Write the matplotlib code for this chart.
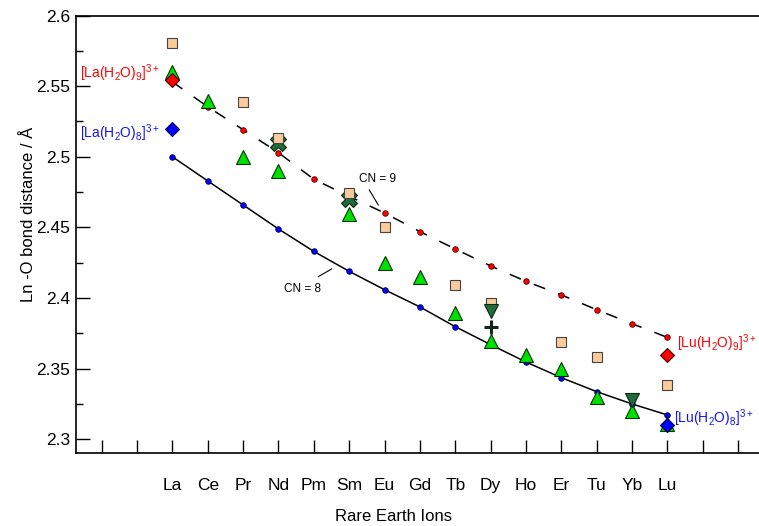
import numpy as np
import matplotlib
matplotlib.use('Agg')
import matplotlib.pyplot as plt
from matplotlib.ticker import FixedLocator, FuncFormatter

plt.rcParams['font.family'] = ['Liberation Sans', 'DejaVu Sans']
plt.rcParams['mathtext.fontset'] = 'custom'
plt.rcParams['mathtext.rm'] = 'Liberation Sans'
plt.rcParams['mathtext.it'] = 'Liberation Sans:italic'
plt.rcParams['mathtext.default'] = 'regular'

# ions along the x axis
ions = ['La', 'Ce', 'Pr', 'Nd', 'Pm', 'Sm', 'Eu', 'Gd', 'Tb', 'Dy', 'Ho', 'Er', 'Tu', 'Yb', 'Lu']

# fitted bond distances for CN = 9 and CN = 8
cn9 = [2.553, 2.5354, 2.5192, 2.5029, 2.4841, 2.472, 2.4602, 2.447, 2.4347,
       2.4227, 2.4118, 2.4022, 2.3917, 2.3818, 2.3721]
cn8 = [2.500, 2.4829, 2.4659, 2.4489, 2.433, 2.4189, 2.4059, 2.3937, 2.3797,
       2.367, 2.3547, 2.3436, 2.3337, 2.3250, 2.3172]

# other data sets
tri_ions = ['La', 'Ce', 'Pr', 'Nd', 'Sm', 'Eu', 'Gd', 'Tb', 'Dy', 'Ho', 'Er', 'Tu', 'Yb', 'Lu']
tri_vals = [2.56, 2.5396, 2.4996, 2.4896, 2.4597, 2.4247, 2.4149, 2.3896, 2.3694,
            2.3597, 2.3496, 2.3302, 2.32, 2.311]
sq_ions = ['La', 'Pr', 'Nd', 'Sm', 'Eu', 'Tb', 'Dy', 'Er', 'Tu', 'Lu']
sq_vals = [2.5803, 2.539, 2.5131, 2.4741, 2.4501, 2.409, 2.3963, 2.3691, 2.3581, 2.3384]
x_ions = ['Nd', 'Sm']
x_vals = [2.5095, 2.4702]
down_ions = ['Dy', 'Yb']
down_vals = [2.3905, 2.328]
plus_ions = ['Dy']
plus_vals = [2.3797]
dia9_ions = ['La', 'Lu']
dia9_vals = [2.5543, 2.3597]
dia8_ions = ['La', 'Lu']
dia8_vals = [2.5199, 2.3101]


def pos(names):
    return [ions.index(n) for n in names]


fig = plt.figure(figsize=(7.59, 5.26), dpi=100)
ax = fig.add_axes([0.1001, 0.1394, 0.8999, 0.8311])

xs = np.arange(len(ions))
ax.plot(xs, cn9, color='black', lw=1.1, dashes=(8, 9), zorder=1)
ax.plot(xs, cn9, 'o', ms=4, mfc='#ff0000', mec='#550000', mew=0.6, zorder=1.5)
ax.plot(xs, cn8, color='black', lw=1.1, zorder=1)
ax.plot(xs, cn8, 'o', ms=4, mfc='#0000ff', mec='#000055', mew=0.6, zorder=1.5)

ax.plot(pos(x_ions), x_vals, 'X', ms=11, mfc='#1f6b3a', mec='#0a2a12', mew=0.8,
        ls='none', zorder=2)
ax.plot(pos(sq_ions), sq_vals, 's', ms=6.5, mfc='#fccb9c', mec='#444444', mew=0.8,
        ls='none', zorder=3)
ax.plot(pos(tri_ions), tri_vals, '^', ms=9.5, mfc='#00e000', mec='#003300', mew=0.8,
        ls='none', zorder=4)
ax.plot(pos(down_ions), down_vals, 'v', ms=9.5, mfc='#1f6b3a', mec='#0a2a12', mew=0.8,
        ls='none', zorder=5)
ax.plot(pos(plus_ions), plus_vals, '+', ms=10, mec='#10281a', mew=2.2,
        ls='none', zorder=6)
ax.plot(pos(dia9_ions), dia9_vals, 'D', ms=7, mfc='#ff0000', mec='#440000', mew=0.8,
        ls='none', zorder=7)
ax.plot(pos(dia8_ions), dia8_vals, 'D', ms=7, mfc='#0000ff', mec='#000044', mew=0.8,
        ls='none', zorder=7)

# labels for the reference complexes
lab_kw = dict(fontsize=10, va='baseline')
ax.text(-0.35, 2.5561, r'[La(H$_2$O)$_9$]$^{3+}$', color='#ff0000', ha='right', **lab_kw)
ax.text(-0.35, 2.5135, r'[La(H$_2$O)$_8$]$^{3+}$', color='#1010ff', ha='right', **lab_kw)
ax.text(14.28, 2.3646, r'[Lu(H$_2$O)$_9$]$^{3+}$', color='#ff0000', ha='left', **lab_kw)
ax.text(14.2, 2.3115, r'[Lu(H$_2$O)$_8$]$^{3+}$', color='#1010ff', ha='left', **lab_kw)

ax.text(5.795, 2.4840, 'CN = 9', fontsize=8.5, ha='center', va='center')
ax.plot([5.568, 5.823], [2.4765, 2.4659], color='black', lw=0.8)
ax.text(3.693, 2.4062, 'CN = 8', fontsize=8.5, ha='center', va='center')
ax.plot([4.126, 4.505], [2.4151, 2.4206], color='black', lw=0.8)

ax.set_xlim(-2.726, 16.59)
ax.set_ylim(2.2905, 2.6)

ticks = list(range(-2, 17))
ax.xaxis.set_major_locator(FixedLocator(ticks))
ax.set_xticklabels(['', ''] + ions + ['', ''])
ax.yaxis.set_major_locator(FixedLocator([2.3, 2.35, 2.4, 2.45, 2.5, 2.55, 2.6]))
ax.yaxis.set_minor_locator(FixedLocator([2.325, 2.375, 2.425, 2.475, 2.525, 2.575]))
ax.yaxis.set_major_formatter(FuncFormatter(lambda v, p: '%g' % round(v, 3)))

ax.tick_params(axis='x', direction='in', length=9.5, width=1, labelsize=12.5, pad=18)
ax.tick_params(axis='y', which='major', direction='in', length=10, width=1,
               labelsize=12.5, pad=4)
ax.tick_params(axis='y', which='minor', direction='in', length=5, width=1)

ax.spines['right'].set_visible(False)
for s in ['left', 'top', 'bottom']:
    ax.spines[s].set_linewidth(1.2)

ax.set_ylabel('Ln -O bond distance / Å', fontsize=12)
ax.yaxis.set_label_coords(-0.058, 0.544)
ax.set_xlabel('Rare Earth Ions', fontsize=12)
ax.xaxis.set_label_coords(0.4656, -0.128)
ax.xaxis.label.set_va('top')

fig.savefig('out.png', dpi=100)
